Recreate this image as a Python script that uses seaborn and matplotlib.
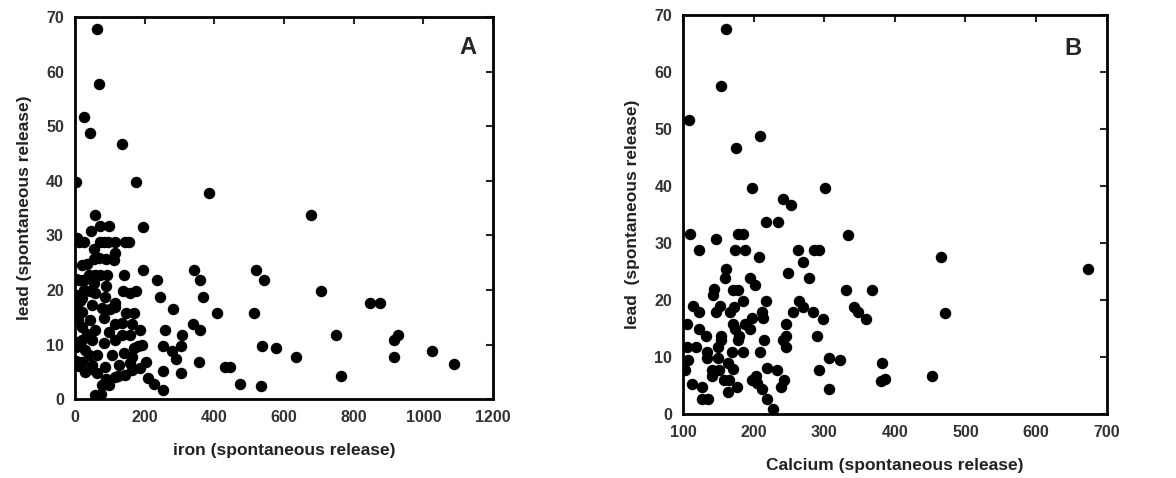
import numpy as np
import pandas as pd
import matplotlib
matplotlib.use('Agg')
import matplotlib.pyplot as plt
import seaborn as sns

# panel A : iron vs lead
iron = [63, 68, 25, 44, 135, 4, 176, 385, 678, 58, 195, 71, 97, 46, 10, 5, 54,
        71, 82, 94, 116, 144, 154, 114, 90, 54, 20, 195, 341, 521, 39, 73, 140,
        358, 544, 234, 10, 23, 90, 707, 176, 44, 138, 366, 243, 848, 877, 281,
        101, 116, 408, 513, 145, 164, 116, 339, 358, 259, 186, 750, 926, 917,
        307, 135, 537, 576, 253, 305, 180, 1025, 279, 915, 635, 291, 164, 1089,
        355, 203, 431, 446, 165, 253, 305, 122, 764, 210, 226, 473, 535, 253,
        58, 78, 90,
        25, 34, 68, 111, 57, 92, 25, 54, 25, 58, 86, 158, 20, 49, 20, 78, 115,
        169, 43, 83, 135, 20, 57, 98, 20, 49, 83, 115, 158, 192, 29, 63, 106,
        141, 169, 20, 49, 86, 126, 158, 29, 63, 115, 144, 187, 98, 75,
        3, 3, 3, 3, 3, 3, 3, 12, 35, 40, 8, 15, 45, 10]
lead_a = [67.8, 57.8, 51.7, 48.7, 46.8, 39.8, 39.8, 37.7, 33.7, 33.7, 31.6, 31.7,
          31.7, 30.8, 28.8, 29.5, 27.6, 28.8, 28.8, 28.8, 28.8, 28.8, 28.8, 26.7,
          25.6, 25.6, 24.5, 23.7, 23.7, 23.7, 22.7, 22.7, 22.7, 21.8, 21.8, 21.8,
          21.8, 21.8, 20.7, 19.8, 19.8, 19.8, 19.8, 18.7, 18.7, 17.7, 17.7, 16.6,
          16.6, 17.6, 15.7, 15.7, 15.7, 13.8, 13.7, 13.7, 12.7, 12.7, 12.7, 11.7,
          11.7, 10.8, 11.7, 11.7, 9.7, 9.4, 9.7, 9.7, 9.7, 8.8, 8.8, 7.8, 7.7, 7.4,
          7.7, 6.5, 6.8, 6.8, 5.8, 5.8, 5.4, 5.1, 4.8, 4.3, 4.2, 3.9, 2.7, 2.7, 2.4,
          1.7, 0.8, 2.5, 3.7,
          28.8, 24.7, 25.8, 25.5, 22.7, 22.7, 21.8, 21.2, 20.0, 19.4, 18.7, 19.4,
          18.5, 17.2, 15.9, 16.7, 16.9, 15.8, 14.5, 14.8, 13.9, 13.2, 12.6, 12.3,
          10.8, 10.8, 10.3, 10.8, 11.7, 9.9, 9.0, 8.1, 8.1, 8.4, 9.3, 6.8, 6.2, 5.9,
          6.2, 6.6, 4.9, 4.8, 4.0, 4.4, 5.7, 2.6, 0.9,
          19.0, 15.5, 10.5, 9.5, 17.0, 22.0, 7.0, 16.0, 12.0, 8.0, 14.5, 18.0, 5.5, 6.0]

# panel B : calcium vs lead
calcium = [161, 153, 108, 209, 175, 197, 301, 242, 253, 217, 234, 109, 178, 185,
           334, 147, 123, 173, 187, 262, 286, 292, 207, 465, 269, 161, 674, 159,
           194, 278, 249, 201, 144, 142, 170, 177, 331, 368, 114, 152, 172, 184,
           217, 264, 269, 342, 348, 122, 146, 166, 211, 256, 284, 471, 213, 298,
           359, 105, 170, 188, 197, 246, 194, 174, 123, 132, 154, 153, 179, 290,
           245, 215, 178, 242, 246, 149, 105, 118, 133, 134, 169, 184, 209, 306,
           322, 107, 149, 382, 164, 170, 102, 141, 150, 219, 233, 293, 141, 453,
           380, 386, 158, 165, 197, 203, 205, 243, 113, 176, 164, 211, 239, 307,
           127, 127, 135, 219, 227]
lead_b = [67.6, 57.6, 51.6, 48.7, 46.6, 39.7, 39.6, 37.7, 36.6, 33.6, 33.6, 31.5,
          31.5, 31.5, 31.4, 30.7, 28.7, 28.7, 28.7, 28.7, 28.7, 28.7, 27.5, 27.5,
          26.6, 25.4, 25.4, 23.8, 23.8, 23.8, 24.7, 22.6, 21.9, 20.8, 21.8, 21.8,
          21.8, 21.8, 19.0, 19.0, 18.8, 19.8, 19.8, 19.8, 18.8, 18.8, 17.8, 17.8,
          17.8, 17.8, 17.8, 17.8, 17.8, 17.7, 16.8, 16.6, 16.6, 15.8, 15.8, 15.8,
          16.8, 15.8, 14.9, 14.9, 14.9, 13.7, 13.7, 12.9, 13.7, 13.7, 13.7, 12.9,
          12.9, 12.9, 11.8, 11.8, 11.8, 11.8, 10.9, 9.8, 10.9, 10.9, 10.9, 9.8,
          9.5, 9.5, 9.8, 8.9, 8.9, 7.8, 7.7, 7.7, 7.7, 8.0, 7.7, 7.7, 6.7, 6.7,
          5.8, 6.1, 6.0, 6.0, 6.0, 6.7, 5.4, 6.0, 5.3, 4.8, 3.8, 4.3, 4.8, 4.3,
          4.7, 2.7, 2.6, 2.6, 0.8]

df_a = pd.DataFrame({'iron': iron, 'lead': lead_a})
df_b = pd.DataFrame({'calcium': calcium, 'lead': lead_b})

sns.set_style('white')
plt.rcParams['font.family'] = ['Liberation Sans', 'DejaVu Sans']
plt.rcParams['font.weight'] = 'bold'

fig = plt.figure(figsize=(11.76, 4.78), dpi=100)
ax1 = fig.add_axes([0.0638, 0.165, 0.3554, 0.799])
ax2 = fig.add_axes([0.581, 0.134, 0.360, 0.835])

sns.scatterplot(data=df_a, x='iron', y='lead', ax=ax1, color='black',
                s=68, edgecolor='black', linewidth=0)
sns.scatterplot(data=df_b, x='calcium', y='lead', ax=ax2, color='black',
                s=68, edgecolor='black', linewidth=0)

ax1.set_xlim(0, 1200)
ax1.set_xticks(range(0, 1201, 200))
ax2.set_xlim(100, 700)
ax2.set_xticks(range(100, 701, 100))
for ax in (ax1, ax2):
    ax.set_ylim(0, 70)
    ax.set_yticks(range(0, 71, 10))
    for sp in ax.spines.values():
        sp.set_linewidth(2)
        sp.set_color('black')
    ax.tick_params(direction='in', length=5, width=1.5, top=True, right=True,
                   labelsize=11.5, labelcolor='#333333', pad=8)
    for lab in ax.get_xticklabels() + ax.get_yticklabels():
        lab.set_fontweight('bold')

ax1.set_xlabel('iron (spontaneous release)', fontsize=12.5, fontweight='bold',
               color='#222222', labelpad=13)
ax1.set_ylabel('lead (spontaneous release)', fontsize=12.5, fontweight='bold',
               color='#222222', labelpad=10)
ax2.set_xlabel('Calcium (spontaneous release)', fontsize=12.5, fontweight='bold',
               color='#222222', labelpad=13)
ax2.set_ylabel('lead  (spontaneous release)', fontsize=12.5, fontweight='bold',
               color='#222222', labelpad=10)

ax1.text(0.94, 0.92, 'A', transform=ax1.transAxes, fontsize=17,
         fontweight='bold', ha='center', va='center')
ax2.text(0.92, 0.915, 'B', transform=ax2.transAxes, fontsize=17,
         fontweight='bold', ha='center', va='center')

fig.savefig('out.png', dpi=100)
